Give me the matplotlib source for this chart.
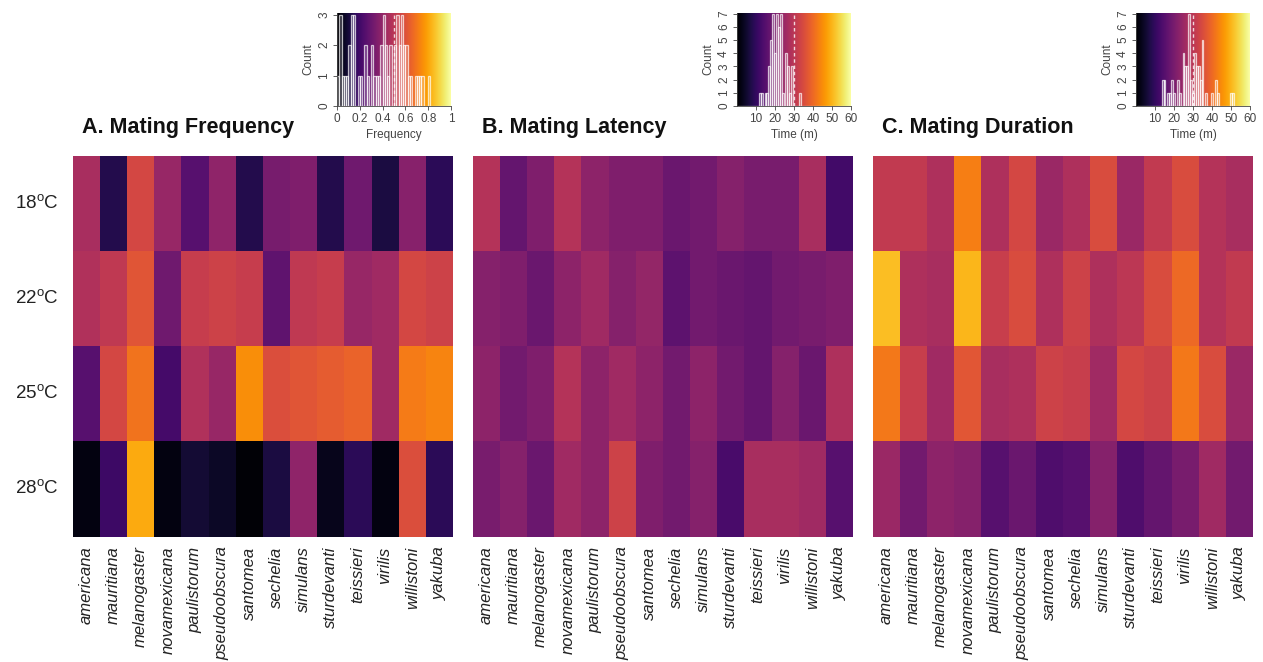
import numpy as np
import matplotlib
matplotlib.use("Agg")
import matplotlib.pyplot as plt

plt.rcParams["font.family"] = ["Liberation Sans", "DejaVu Sans"]
plt.rcParams["mathtext.fontset"] = "custom"
plt.rcParams["mathtext.rm"] = "Liberation Sans"

species = ["americana", "mauritiana", "melanogaster", "novamexicana", "paulistorum",
           "pseudoobscura", "santomea", "sechelia", "simulans", "sturdevanti",
           "teissieri", "virilis", "willistoni", "yakuba"]
temps = ["18", "22", "25", "28"]

# proportion of pairs that mated (rows: 18, 22, 25, 28 °C)
frequency = [
    [0.45, 0.13, 0.57, 0.41, 0.25, 0.39, 0.13, 0.33, 0.35, 0.13, 0.31, 0.11, 0.37, 0.15],
    [0.47, 0.51, 0.61, 0.31, 0.53, 0.55, 0.53, 0.27, 0.51, 0.53, 0.41, 0.43, 0.57, 0.55],
    [0.25, 0.57, 0.69, 0.21, 0.47, 0.41, 0.75, 0.59, 0.61, 0.63, 0.65, 0.43, 0.71, 0.73],
    [0.03, 0.19, 0.81, 0.03, 0.09, 0.07, 0.01, 0.11, 0.39, 0.05, 0.15, 0.03, 0.59, 0.15],
]
# minutes until copulation
latency = [
    [29, 17, 21, 29, 23, 21, 21, 18, 19, 22, 20, 20, 27, 12],
    [22, 21, 18, 23, 26, 22, 24, 16, 19, 18, 17, 19, 20, 21],
    [23, 19, 21, 29, 23, 26, 23, 19, 23, 19, 17, 22, 18, 28],
    [20, 22, 18, 26, 23, 33, 21, 19, 22, 13, 27, 27, 26, 15],
]
# minutes in copula
duration = [
    [31, 31, 28, 43, 28, 34, 25, 28, 35, 25, 31, 35, 29, 27],
    [51, 28, 27, 50, 32, 35, 28, 33, 28, 30, 35, 40, 29, 31],
    [42, 32, 26, 37, 27, 28, 33, 32, 26, 34, 33, 42, 35, 25],
    [25, 19, 23, 22, 15, 18, 14, 15, 22, 14, 17, 20, 26, 19],
]

panels = [
    dict(title="A. Mating Frequency", data=frequency, vmax=1.0, ref=0.5,
         bins=np.linspace(0, 1, 51), xticks=[0, 0.2, 0.4, 0.6, 0.8, 1],
         xticklabels=["0", "0.2", "0.4", "0.6", "0.8", "1"], xlabel="Frequency",
         yticks=[0, 1, 2, 3]),
    dict(title="B. Mating Latency", data=latency, vmax=60, ref=30,
         bins=np.arange(0.5, 61, 1), xticks=[10, 20, 30, 40, 50, 60],
         xticklabels=["10", "20", "30", "40", "50", "60"], xlabel="Time (m)",
         yticks=list(range(8))),
    dict(title="C. Mating Duration", data=duration, vmax=60, ref=30,
         bins=np.arange(0.5, 61, 1), xticks=[10, 20, 30, 40, 50, 60],
         xticklabels=["10", "20", "30", "40", "50", "60"], xlabel="Time (m)",
         yticks=list(range(8))),
]

W, H = 1263, 662
fig = plt.figure(figsize=(W / 100, H / 100), dpi=100)


def box(x0, y0, x1, y1):
    return [x0 / W, 1 - y1 / H, (x1 - x0) / W, (y1 - y0) / H]


heat_left = [72.7, 472.7, 872.7]
inset_left = [337, 737, 1136]
cmap = plt.get_cmap("inferno")
grey = "#444444"

for i, p in enumerate(panels):
    vals = np.array(p["data"], dtype=float)

    ax = fig.add_axes(box(heat_left[i], 155.7, heat_left[i] + 380.3, 536.7))
    ax.pcolormesh(np.arange(len(species) + 1), np.arange(len(temps) + 1), vals,
                  cmap=cmap, vmin=0, vmax=p["vmax"], shading="flat")
    ax.set_xlim(0, len(species))
    ax.set_ylim(len(temps), 0)
    ax.set_xticks(np.arange(len(species)) + 0.5)
    ax.set_xticklabels(species, rotation=90, fontstyle="italic", fontsize=12,
                       color="#222222")
    ax.tick_params(axis="x", length=0, pad=7)
    ax.set_yticks([])
    for s in ax.spines.values():
        s.set_visible(False)

    fig.text((heat_left[i] + 9) / W, 1 - 127 / H, p["title"], fontsize=15.5,
             fontweight="bold", va="center", ha="left", color="#111111")

    # distribution inset over the colour scale
    ins = fig.add_axes(box(inset_left[i], 13, inset_left[i] + 114, 106))
    ymax = len(p["yticks"]) - 1
    grad = np.linspace(0, 1, 256).reshape(1, -1)
    ins.imshow(grad, cmap=cmap, aspect="auto", extent=[0, p["vmax"], 0, ymax + 0.05],
               origin="lower", zorder=0)
    ins.hist(vals.ravel(), bins=p["bins"], histtype="bar",
             facecolor=(1, 1, 1, 0.18), edgecolor=(1, 1, 1, 0.7), linewidth=0.9,
             zorder=2)
    ins.axvline(p["ref"], color="white", linestyle=(0, (2.5, 2)), linewidth=1.0,
                alpha=0.8, zorder=3)
    ins.set_xlim(0, p["vmax"])
    ins.set_ylim(0, ymax + 0.05)
    ins.set_xticks(p["xticks"])
    ins.set_xticklabels(p["xticklabels"], fontsize=8.5, color=grey)
    ins.set_yticks(p["yticks"])
    ins.set_yticklabels([str(t) for t in p["yticks"]], fontsize=8.5, color=grey,
                        rotation=90, va="center")
    ins.tick_params(length=3, width=0.6, color=grey, pad=2)
    ins.set_xlabel(p["xlabel"], fontsize=8.5, color=grey, labelpad=3)
    ins.set_ylabel("Count", fontsize=8.5, color=grey, labelpad=3)
    for side in ("top", "right"):
        ins.spines[side].set_visible(False)
    for side in ("left", "bottom"):
        ins.spines[side].set_color(grey)
        ins.spines[side].set_linewidth(0.6)

# temperature row labels
for r, t in enumerate(temps):
    yc = 155.7 + (r + 0.5) * (381 / 4)
    fig.text(15 / W, 1 - yc / H, t + r"$^\mathrm{o}$C", fontsize=13.5,
             va="center", ha="left", color="#222222")

fig.savefig("out.png", dpi=100, facecolor="white")
